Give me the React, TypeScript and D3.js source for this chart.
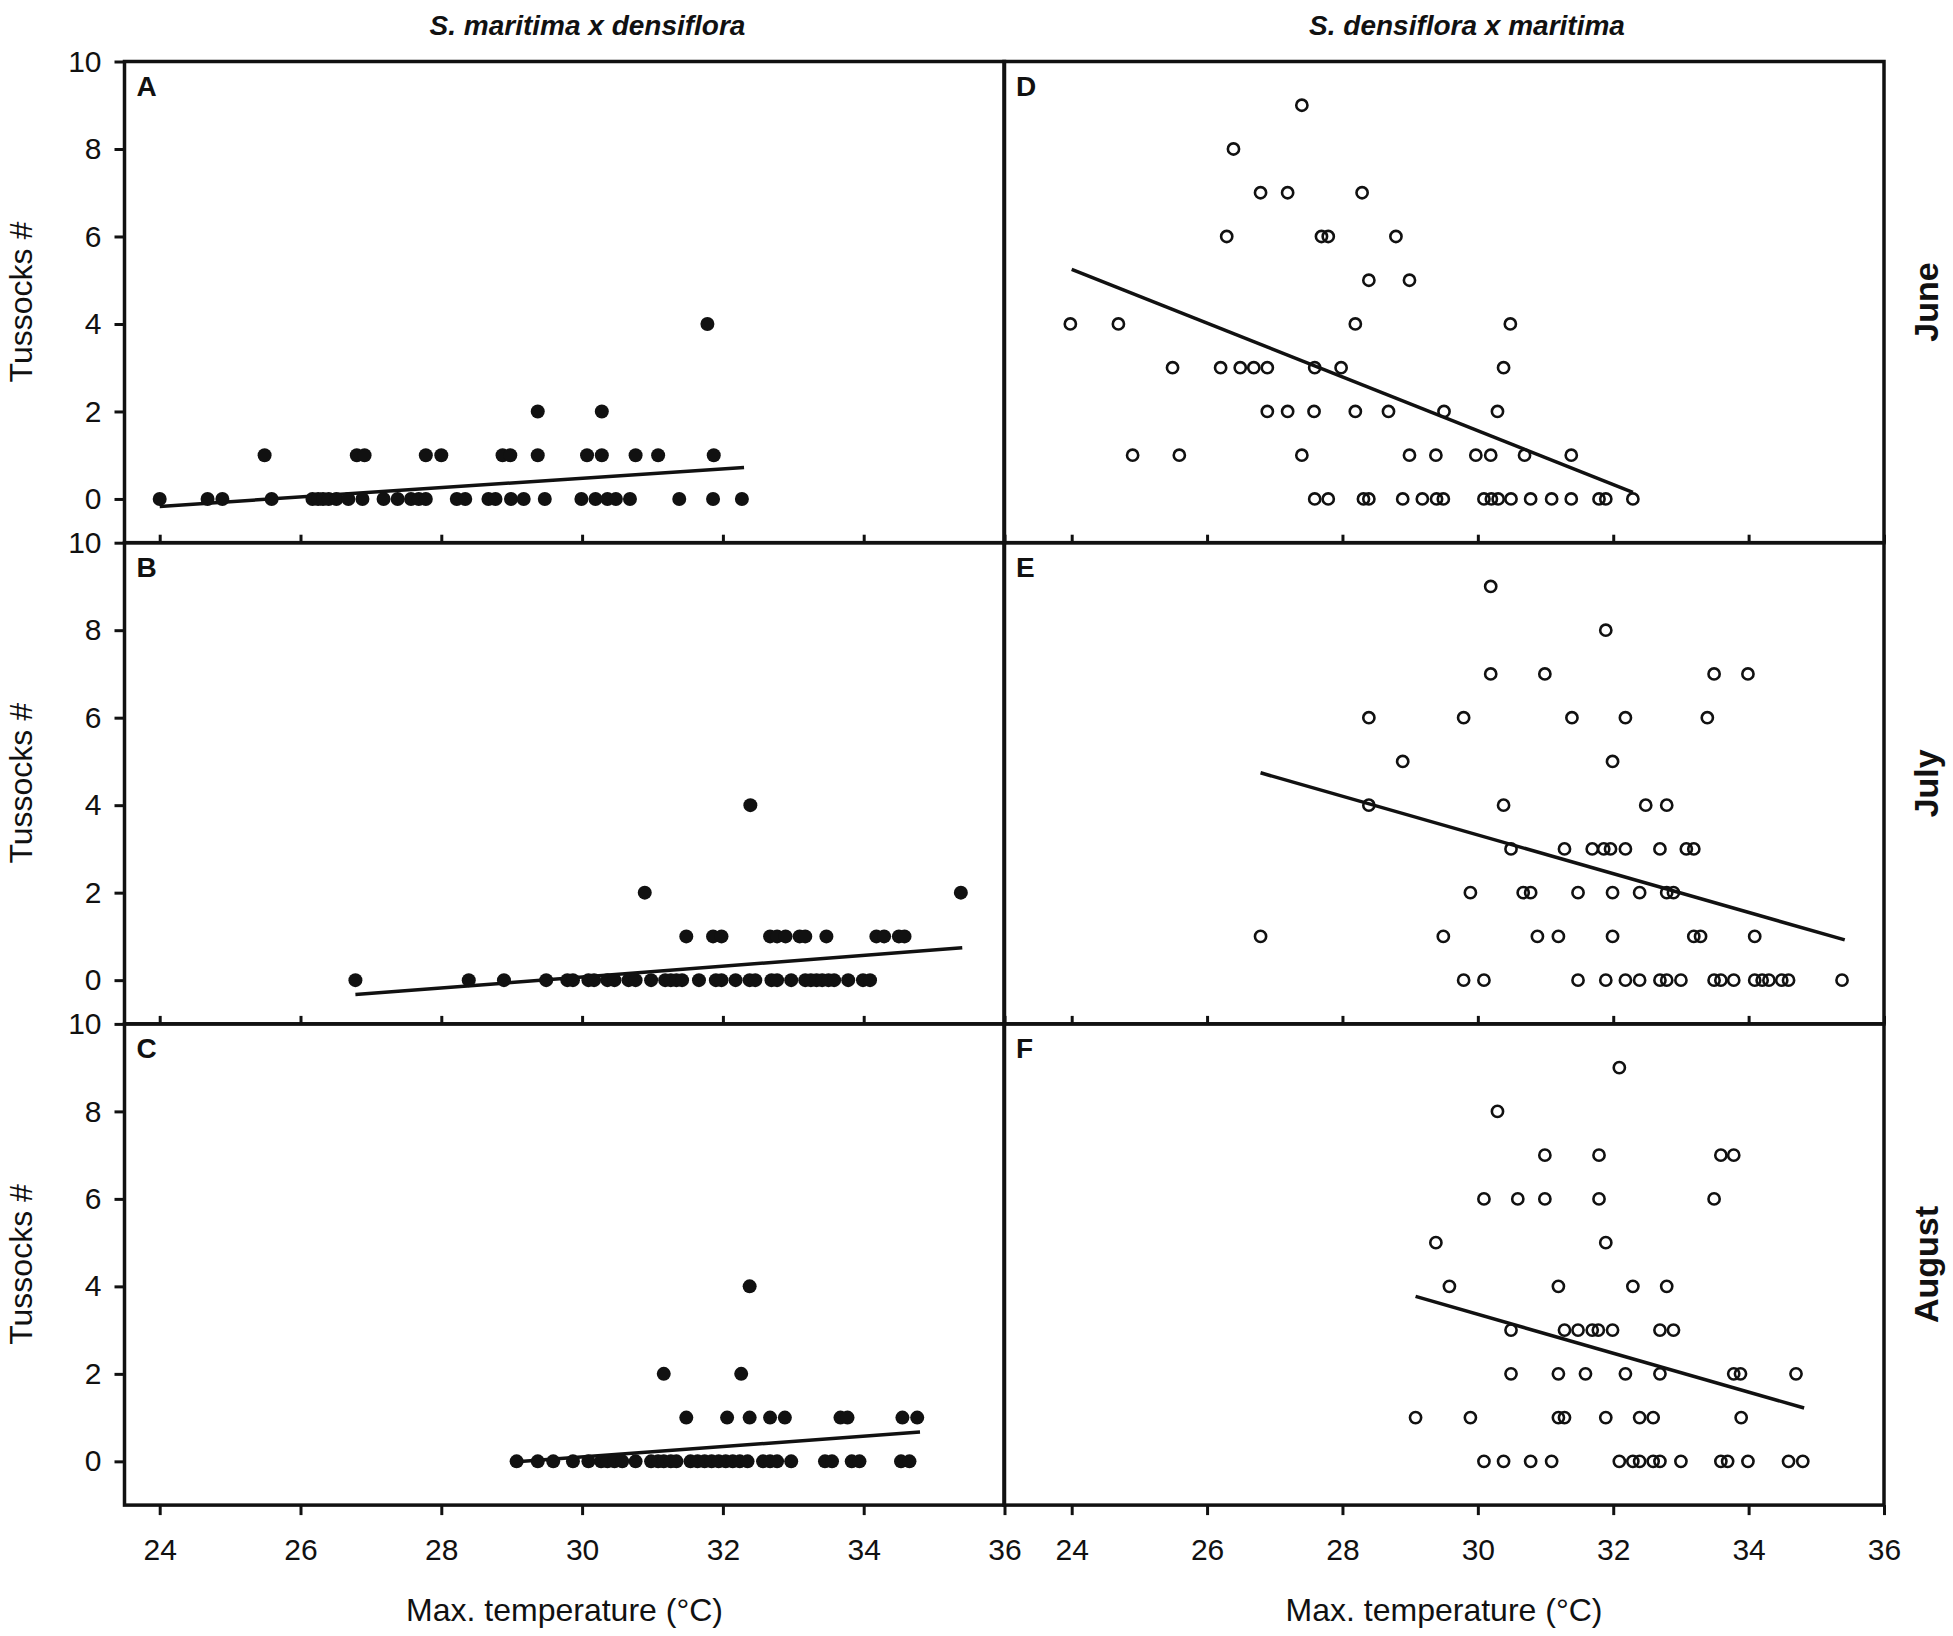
import React, { useRef, useEffect } from "react";
import * as d3 from "d3";

type Pt = [number, number];
type Fit = [number, number, number, number];

// values
const columnTitles = ["S. maritima x densiflora", "S. densiflora x maritima"];
const monthLabels = ["June", "July", "August"];
const panelLetters = [
    ["A", "B", "C"],
    ["D", "E", "F"],
];
const xTicks = [24, 26, 28, 30, 32, 34, 36];
const yTicks = [0, 2, 4, 6, 8, 10];
const leftDomain: [number, number] = [23.5, 36];
const rightDomain: [number, number] = [23, 36];
const yDomain: [number, number] = [-1, 10];
const xLabel = "Max. temperature (\u00B0C)";
const yLabel = "Tussocks #";

const row = (count: number, temps: number[]): Pt[] => temps.map((t) => [t, count] as Pt);

// S. maritima x densiflora (filled)
const panelA: Pt[] = [
    ...row(0, [24.0, 24.68, 24.89, 25.59, 26.17, 26.25, 26.32, 26.4, 26.51, 26.68, 26.88, 27.18, 27.38, 27.57, 27.68, 27.78, 28.22, 28.34, 28.67, 28.77, 28.99, 29.17, 29.47, 29.99, 30.19, 30.36, 30.48, 30.68, 31.38, 31.86, 32.27]),
    ...row(1, [25.49, 26.8, 26.91, 27.78, 28.0, 28.87, 28.98, 29.37, 30.07, 30.28, 30.76, 31.08, 31.87]),
    ...row(2, [29.37, 30.28]),
    ...row(4, [31.78]),
];
const panelB: Pt[] = [
    ...row(0, [26.78, 28.39, 28.89, 29.49, 29.79, 29.87, 30.09, 30.17, 30.36, 30.46, 30.66, 30.76, 30.98, 31.18, 31.26, 31.34, 31.42, 31.66, 31.9, 31.98, 32.18, 32.38, 32.46, 32.69, 32.77, 32.97, 33.17, 33.25, 33.33, 33.41, 33.5, 33.58, 33.78, 33.99, 34.09]),
    ...row(1, [31.48, 31.86, 31.98, 32.67, 32.77, 32.89, 33.09, 33.17, 33.47, 34.18, 34.29, 34.5, 34.58]),
    ...row(2, [30.89, 35.38]),
    ...row(4, [32.39]),
];
const panelC: Pt[] = [
    ...row(0, [29.07, 29.37, 29.59, 29.87, 30.09, 30.27, 30.36, 30.46, 30.57, 30.76, 30.98, 31.08, 31.16, 31.26, 31.34, 31.54, 31.64, 31.74, 31.84, 31.94, 32.04, 32.14, 32.24, 32.35, 32.57, 32.67, 32.77, 32.97, 33.45, 33.55, 33.83, 33.94, 34.53, 34.65]),
    ...row(1, [31.48, 32.06, 32.38, 32.67, 32.88, 33.67, 33.77, 34.55, 34.76]),
    ...row(2, [31.16, 32.26]),
    ...row(4, [32.38]),
];

// S. densiflora x maritima (open)
const panelD: Pt[] = [
    ...row(0, [27.59, 27.79, 28.31, 28.39, 28.89, 29.18, 29.39, 29.49, 30.09, 30.2, 30.3, 30.49, 30.78, 31.09, 31.38, 31.79, 31.89, 32.29]),
    ...row(1, [24.9, 25.59, 27.4, 28.99, 29.38, 29.97, 30.19, 30.69, 31.38]),
    ...row(2, [26.89, 27.19, 27.58, 28.19, 28.68, 29.5, 30.29]),
    ...row(3, [25.49, 26.2, 26.49, 26.69, 26.89, 27.59, 27.98, 30.38]),
    ...row(4, [23.98, 24.69, 28.19, 30.48]),
    ...row(5, [28.39, 28.99]),
    ...row(6, [26.29, 27.69, 27.79, 28.79]),
    ...row(7, [26.79, 27.19, 28.29]),
    ...row(8, [26.39]),
    ...row(9, [27.4]),
];
const panelE: Pt[] = [
    ...row(0, [29.79, 30.09, 31.48, 31.89, 32.18, 32.39, 32.69, 32.79, 33.0, 33.49, 33.59, 33.78, 34.09, 34.2, 34.3, 34.49, 34.59, 35.38]),
    ...row(1, [26.79, 29.49, 30.88, 31.19, 31.99, 33.19, 33.29, 34.09]),
    ...row(2, [29.89, 30.67, 30.78, 31.48, 31.99, 32.39, 32.79, 32.89]),
    ...row(3, [30.49, 31.28, 31.69, 31.86, 31.96, 32.18, 32.69, 33.08, 33.19]),
    ...row(4, [28.39, 30.38, 32.48, 32.79]),
    ...row(5, [28.89, 31.99]),
    ...row(6, [28.39, 29.79, 31.39, 32.18, 33.39]),
    ...row(7, [30.19, 30.99, 33.49, 33.99]),
    ...row(8, [31.89]),
    ...row(9, [30.19]),
];
const panelF: Pt[] = [
    ...row(0, [30.09, 30.38, 30.78, 31.09, 32.09, 32.29, 32.39, 32.59, 32.69, 33.0, 33.59, 33.69, 33.99, 34.59, 34.8]),
    ...row(1, [29.08, 29.89, 31.19, 31.28, 31.89, 32.39, 32.59, 33.89]),
    ...row(2, [30.49, 31.19, 31.59, 32.18, 32.69, 33.78, 33.88, 34.7]),
    ...row(3, [30.49, 31.28, 31.48, 31.69, 31.78, 31.99, 32.69, 32.89]),
    ...row(4, [29.58, 31.19, 32.29, 32.79]),
    ...row(5, [29.38, 31.89]),
    ...row(6, [30.09, 30.59, 30.99, 31.79, 33.49]),
    ...row(7, [30.99, 31.79, 33.59, 33.78]),
    ...row(8, [30.29]),
    ...row(9, [32.09]),
];

// regression lines: [x0, y0, x1, y1]
const fitA: Fit = [24.0, -0.17, 32.3, 0.72];
const fitB: Fit = [26.78, -0.33, 35.4, 0.74];
const fitC: Fit = [29.07, -0.01, 34.8, 0.67];
const fitD: Fit = [24.0, 5.25, 32.29, 0.15];
const fitE: Fit = [26.79, 4.74, 35.42, 0.92];
const fitF: Fit = [29.08, 3.77, 34.82, 1.22];

const panels = [
    { col: 0, row: 0, data: panelA, fit: fitA },
    { col: 0, row: 1, data: panelB, fit: fitB },
    { col: 0, row: 2, data: panelC, fit: fitC },
    { col: 1, row: 0, data: panelD, fit: fitD },
    { col: 1, row: 1, data: panelE, fit: fitE },
    { col: 1, row: 2, data: panelF, fit: fitF },
];

const W = 1953;
const H = 1636;
const PW = 880;
const PH = 481.2;
const colX = [124.5, 1004];
const rowY = [61.5, 542.7, 1023.9];
const ink = "#111";
const font = "'Liberation Sans', Arial, sans-serif";

const App: React.FC = () => {
    const svgRef = useRef<SVGSVGElement | null>(null);

    useEffect(() => {
        if (!svgRef.current) return;
        const svg = d3.select(svgRef.current);
        svg.selectAll("*").remove();

        const y = d3.scaleLinear().domain(yDomain).range([PH, 0]);

        panels.forEach((p) => {
            const x = d3
                .scaleLinear()
                .domain(p.col === 0 ? leftDomain : rightDomain)
                .range([0, PW]);
            const filled = p.col === 0;
            const g = svg
                .append("g")
                .attr("transform", `translate(${colX[p.col]},${rowY[p.row]})`);

            g.append("line")
                .attr("x1", x(p.fit[0]))
                .attr("y1", y(p.fit[1]))
                .attr("x2", x(p.fit[2]))
                .attr("y2", y(p.fit[3]))
                .attr("stroke", ink)
                .attr("stroke-width", 3.5);

            g.selectAll("circle")
                .data(p.data)
                .enter()
                .append("circle")
                .attr("cx", (d) => x(d[0]))
                .attr("cy", (d) => y(d[1]))
                .attr("r", filled ? 7 : 5.6)
                .attr("fill", filled ? ink : "none")
                .attr("stroke", ink)
                .attr("stroke-width", filled ? 0 : 2.6);

            // x axis: inner ticks for upper rows, labelled outer ticks for the bottom row
            const isBottom = p.row === 2;
            const xAxis = d3
                .axisBottom(x)
                .tickValues(xTicks)
                .tickSize(isBottom ? 10 : -8)
                .tickPadding(24);
            if (!isBottom) xAxis.tickFormat(() => "");
            const gx = g.append("g").attr("transform", `translate(0,${PH})`).call(xAxis);
            gx.select(".domain").remove();
            gx.selectAll("line").attr("stroke", ink).attr("stroke-width", 3);
            gx.selectAll("text")
                .attr("font-size", 30)
                .attr("font-family", font)
                .attr("fill", ink);

            if (p.col === 0) {
                const yAxis = d3.axisLeft(y).tickValues(yTicks).tickSize(10).tickPadding(13);
                const gy = g.append("g").call(yAxis);
                gy.select(".domain").remove();
                gy.selectAll("line").attr("stroke", ink).attr("stroke-width", 3);
                gy.selectAll("text")
                    .attr("font-size", 30)
                    .attr("font-family", font)
                    .attr("fill", ink);
            }

            g.append("rect")
                .attr("width", PW)
                .attr("height", PH)
                .attr("fill", "none")
                .attr("stroke", ink)
                .attr("stroke-width", 3.5);

            g.append("text")
                .attr("x", 12)
                .attr("y", 34.5)
                .attr("font-size", 28)
                .attr("font-weight", "bold")
                .attr("font-family", font)
                .attr("fill", ink)
                .text(panelLetters[p.col][p.row]);
        });

        // row labels
        rowY.forEach((top, i) => {
            const cy = top + PH / 2;
            svg.append("text")
                .attr("transform", `translate(20.5,${cy}) rotate(-90)`)
                .attr("text-anchor", "middle")
                .attr("dominant-baseline", "central")
                .attr("font-size", 32)
                .attr("font-family", font)
                .attr("fill", ink)
                .text(yLabel);
            svg.append("text")
                .attr("transform", `translate(1926,${cy}) rotate(-90)`)
                .attr("text-anchor", "middle")
                .attr("dominant-baseline", "central")
                .attr("font-size", 34)
                .attr("font-weight", "bold")
                .attr("font-family", font)
                .attr("fill", ink)
                .text(monthLabels[i]);
        });

        // column titles and x labels
        colX.forEach((left, i) => {
            svg.append("text")
                .attr("x", left + PW / 2 + 23)
                .attr("y", 35)
                .attr("text-anchor", "middle")
                .attr("font-size", 28)
                .attr("font-weight", "bold")
                .attr("font-style", "italic")
                .attr("font-family", font)
                .attr("fill", ink)
                .text(columnTitles[i]);
            svg.append("text")
                .attr("x", left + PW / 2)
                .attr("y", 1621)
                .attr("text-anchor", "middle")
                .attr("font-size", 32)
                .attr("font-family", font)
                .attr("fill", ink)
                .text(xLabel);
        });
    }, []);

    return (
        <svg
            ref={svgRef}
            width={W}
            height={H}
            style={{ position: "absolute", left: 0, top: 0, background: "#fff" }}
        />
    );
};

export default App;
